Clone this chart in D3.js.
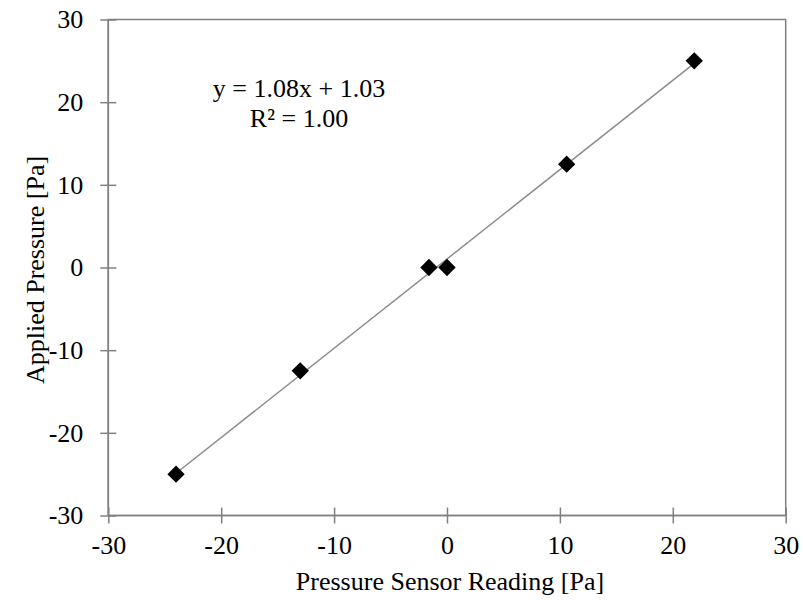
<!DOCTYPE html>
<html>
<head>
<meta charset="utf-8">
<script src="https://cdn.jsdelivr.net/npm/d3@7"></script>
<style>
  body { margin: 0; background: #fff; }
</style>
</head>
<body>
<div id="chart"></div>
<script>
// data
const sensorReading = [-24.0, -13.0, -1.6, 0.0, 10.6, 21.9];
const appliedPressure = [-25.0, -12.5, 0.0, 0.0, 12.5, 25.0];
const xTicks = [-30, -20, -10, 0, 10, 20, 30];
const yTicks = [-30, -20, -10, 0, 10, 20, 30];
const fitSlope = 1.08;
const fitIntercept = 1.03;
const fitR2 = "1.00";

const serif = '"Liberation Serif"';
const fontSize = 26;
const width = 803, height = 600;
const svg = d3.select("#chart").append("svg")
  .attr("width", width).attr("height", height);

const plotL = 108.3, plotR = 785.7, plotT = 19.5, plotB = 515.5;
const x = d3.scaleLinear().domain([-30, 30]).range([plotL, plotR]);
const y = d3.scaleLinear().domain([-30, 30]).range([plotB, plotT]);
const axisColor = "#808080";

// frame (top and right)
svg.append("rect")
  .attr("x", plotL).attr("y", plotT)
  .attr("width", plotR - plotL).attr("height", plotB - plotT)
  .attr("fill", "none").attr("stroke", axisColor).attr("stroke-width", 1.5);

// axes, ticks cross the line
const xAxis = svg.append("g").attr("transform", `translate(0,${plotB})`)
  .call(d3.axisBottom(x).tickValues(xTicks).tickFormat(d => String(d)).tickSize(8));
const yAxis = svg.append("g").attr("transform", `translate(${plotL},0)`)
  .call(d3.axisLeft(y).tickValues(yTicks).tickFormat(d => String(d)).tickSize(8).tickPadding(17));

[xAxis, yAxis].forEach(g => {
  g.attr("font-family", null).attr("font-size", null);
  g.select(".domain").attr("stroke", axisColor).attr("stroke-width", 1.5);
  g.selectAll(".tick line").attr("stroke", axisColor).attr("stroke-width", 1.5);
  g.selectAll(".tick text").attr("fill", "#000")
    .style("font-family", serif).style("font-size", fontSize + "px");
});
xAxis.selectAll(".tick line").attr("y1", -8).attr("y2", 8);
xAxis.selectAll(".tick text").attr("y", 38).attr("dy", null);
yAxis.selectAll(".tick line").attr("x1", -8).attr("x2", 8);
xAxis.select(".domain").attr("d", `M${plotL},0H${plotR}`);
yAxis.select(".domain").attr("d", `M0,${plotB}V${plotT}`);

// linear trend line
const xs = d3.extent(sensorReading);
svg.append("line")
  .attr("x1", x(xs[0])).attr("y1", y(fitSlope * xs[0] + fitIntercept))
  .attr("x2", x(xs[1])).attr("y2", y(fitSlope * xs[1] + fitIntercept))
  .attr("stroke", "#8c8c8c").attr("stroke-width", 1.5);

// diamond markers
const diamond = d3.symbol().type(d3.symbolSquare).size(150);
svg.selectAll(".pt").data(sensorReading).enter().append("path")
  .attr("class", "pt")
  .attr("d", diamond)
  .attr("transform", (d, i) => `translate(${x(d)},${y(appliedPressure[i])}) rotate(45)`)
  .attr("fill", "#000");

function label(sel) {
  return sel.style("font-family", serif).style("font-size", fontSize + "px").attr("fill", "#000");
}

// equation
label(svg.append("text")).attr("x", 299).attr("y", 97).attr("text-anchor", "middle")
  .text(`y = ${fitSlope.toFixed(2)}x + ${fitIntercept.toFixed(2)}`);
label(svg.append("text")).attr("x", 299).attr("y", 127).attr("text-anchor", "middle")
  .text(`R² = ${fitR2}`);

// axis titles
label(svg.append("text")).attr("x", 450).attr("y", 590).attr("text-anchor", "middle")
  .text("Pressure Sensor Reading [Pa]");
label(svg.append("text")).attr("transform", `translate(44,270) rotate(-90)`)
  .attr("text-anchor", "middle").text("Applied Pressure [Pa]");
</script>
</body>
</html>
